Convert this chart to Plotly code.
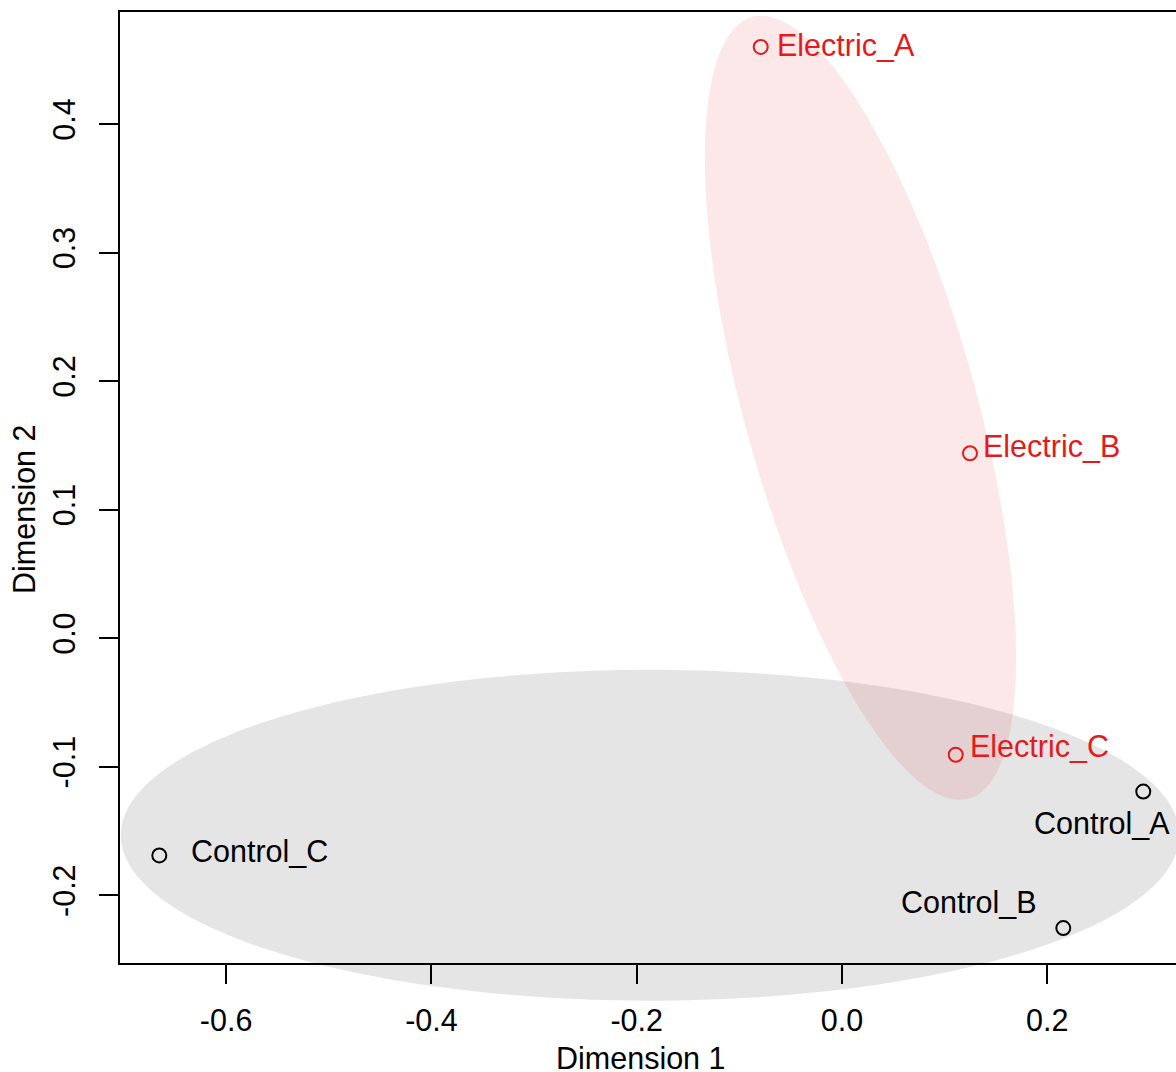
import numpy as np
import plotly.graph_objects as go

# ---------------- data ----------------
samples = ["Electric_A", "Electric_B", "Electric_C", "Control_A", "Control_B", "Control_C"]
groups = ["Electric", "Electric", "Electric", "Control", "Control", "Control"]
dim1 = [-0.0792, 0.1247, 0.1108, 0.2935, 0.2156, -0.6651]
dim2 = [0.4600, 0.1439, -0.0907, -0.1193, -0.2255, -0.1690]

# group ellipses (data units): centre, semi-axes, rotation (degrees)
ell_groups = ["Control", "Electric"]
ell_cx = [-0.1870, 0.0180]
ell_cy = [-0.1533, 0.1792]
ell_a = [0.5156, 0.3221]
ell_b = [0.1287, 0.1105]
ell_angle = [0.0, -69.96]

x_ticks = [-0.6, -0.4, -0.2, 0.0, 0.2]
y_ticks = [-0.2, -0.1, 0.0, 0.1, 0.2, 0.3, 0.4]
x_range = [-0.7034, 0.3254]
y_range = [-0.2527, 0.4872]
x_title = "Dimension 1"
y_title = "Dimension 2"

# ---------------- styles ----------------
FONT = "Liberation Sans, Arial, Helvetica, sans-serif"
FS = 30.5
RED = "#E41A1C"
group_color = {"Electric": RED, "Control": "#000000"}
group_fill = {"Electric": "rgba(228,26,28,0.10)", "Control": "rgba(0,0,0,0.10)"}
label_style = {
    "Electric_A": dict(xanchor="left", xshift=14, yshift=2),
    "Electric_B": dict(xanchor="left", xshift=11, yshift=7),
    "Electric_C": dict(xanchor="left", xshift=12, yshift=9),
    "Control_A": dict(xanchor="center", xshift=-41, yshift=-31),
    "Control_B": dict(xanchor="right", xshift=-24, yshift=26),
    "Control_C": dict(xanchor="left", xshift=30, yshift=4),
}

fig = go.Figure()

# ellipses as shapes (x in data units, y mapped onto paper so they are not clipped vertically)
shapes = []
t = np.linspace(0, 2 * np.pi, 240)
for g, cx, cy, a, b, ang in zip(ell_groups, ell_cx, ell_cy, ell_a, ell_b, ell_angle):
    th = np.deg2rad(ang)
    ex = cx + a * np.cos(t) * np.cos(th) - b * np.sin(t) * np.sin(th)
    ey = cy + a * np.cos(t) * np.sin(th) + b * np.sin(t) * np.cos(th)
    ey_p = (ey - y_range[0]) / (y_range[1] - y_range[0])
    path = "M " + " L ".join(f"{x:.6f},{y:.6f}" for x, y in zip(ex, ey_p)) + " Z"
    shapes.append(dict(type="path", path=path, xref="x", yref="paper",
                       fillcolor=group_fill[g], line=dict(width=0), layer="below"))

for g in ["Electric", "Control"]:
    xs = [x for x, gg in zip(dim1, groups) if gg == g]
    ys = [y for y, gg in zip(dim2, groups) if gg == g]
    fig.add_trace(go.Scatter(
        x=xs, y=ys, mode="markers", cliponaxis=False,
        marker=dict(symbol="circle-open", size=14, color=group_color[g],
                    line=dict(width=2, color=group_color[g])),
        showlegend=False, hoverinfo="skip"))

annotations = []
for s, g, x, y in zip(samples, groups, dim1, dim2):
    st = label_style[s]
    annotations.append(dict(x=x, y=y, xref="x", yref="y", text=s, showarrow=False,
                            xanchor=st["xanchor"], yanchor="middle",
                            xshift=st["xshift"], yshift=st["yshift"],
                            font=dict(family=FONT, size=FS, color=group_color[g])))

# axis titles
annotations.append(dict(x=0.4929, y=-0.0999, xref="paper", yref="paper", text=x_title,
                        showarrow=False, xanchor="center", yanchor="middle",
                        font=dict(family=FONT, size=FS, color="black")))
annotations.append(dict(x=-0.0909, y=0.4774, xref="paper", yref="paper", text=y_title,
                        showarrow=False, xanchor="center", yanchor="middle", textangle=-90,
                        font=dict(family=FONT, size=FS, color="black")))

axis_common = dict(showgrid=False, zeroline=False, showline=True, linecolor="black",
                   linewidth=2, ticks="outside", ticklen=19, tickwidth=2,
                   tickcolor="black", tickfont=dict(family=FONT, size=FS, color="black"))

fig.update_layout(
    width=1176, height=1072,
    margin=dict(l=120, r=0, t=12, b=109, autoexpand=False),
    paper_bgcolor="white", plot_bgcolor="white",
    shapes=shapes, annotations=annotations, showlegend=False,
    xaxis=dict(range=x_range, tickvals=x_ticks, ticktext=[f"{v:.1f}" for v in x_ticks],
               mirror=True, ticklabelstandoff=10, **axis_common),
    yaxis=dict(range=y_range, tickvals=y_ticks, ticktext=[f"{v:.1f}" for v in y_ticks],
               tickangle=-90, mirror=False, ticklabelstandoff=12, **axis_common),
)

fig.write_html("out.html", config={"displayModeBar": False},
               post_script="document.body.style.margin='0px';document.body.style.overflow='hidden';")
